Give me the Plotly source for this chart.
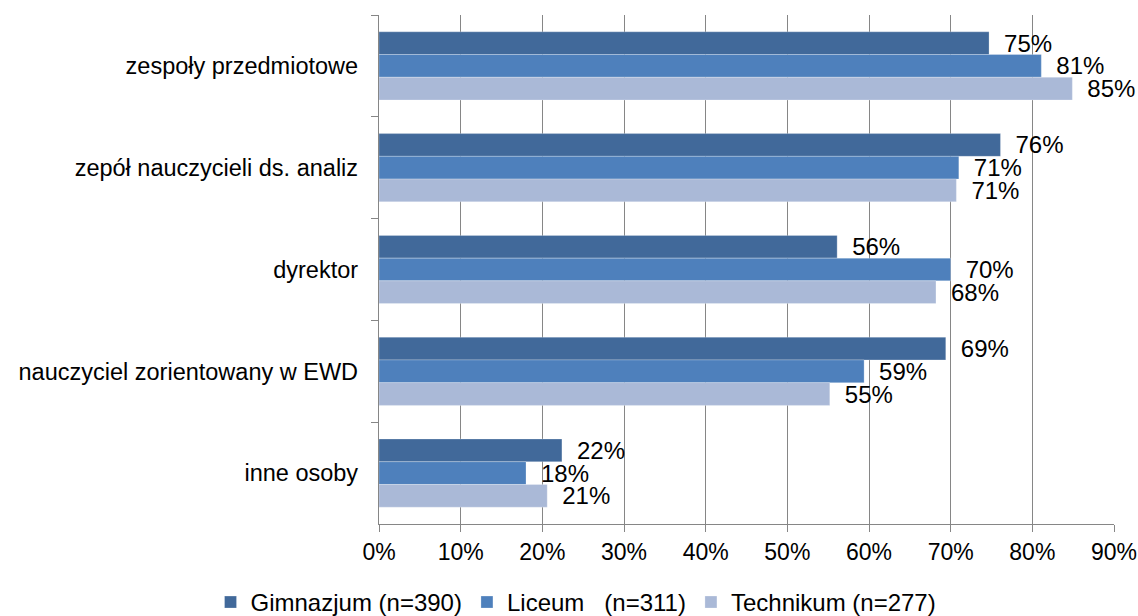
import plotly.graph_objects as go

categories = ["zespoły przedmiotowe", "zepół nauczycieli ds. analiz", "dyrektor",
              "nauczyciel zorientowany w EWD", "inne osoby"]
gimnazjum = [0.747, 0.761, 0.561, 0.694, 0.224]
liceum = [0.811, 0.710, 0.700, 0.594, 0.180]
technikum = [0.849, 0.707, 0.682, 0.552, 0.206]
series_names = ["Gimnazjum (n=390)", "Liceum\u00a0\u00a0 (n=311)", "Technikum (n=277)"]
colors = ["#41699A", "#4E80BC", "#AAB9D7"]
x_ticks = [0, 0.1, 0.2, 0.3, 0.4, 0.5, 0.6, 0.7, 0.8, 0.9]
x_tick_labels = ["0%", "10%", "20%", "30%", "40%", "50%", "60%", "70%", "80%", "90%"]

FONT = "Liberation Sans, Arial, sans-serif"

fig = go.Figure()
for name, vals, col in zip(series_names, [gimnazjum, liceum, technikum], colors):
    fig.add_trace(go.Bar(
        y=categories, x=vals, name=name, orientation="h",
        marker=dict(color=col, line=dict(color="rgba(255,255,255,0.5)", width=0.5)),
        text=vals, texttemplate="\u2002%{x:.0%}", textposition="outside",
        constraintext="none", cliponaxis=False,
        textfont=dict(family=FONT, size=24, color="#000000"),
    ))

fig.update_layout(
    width=1138, height=616,
    barmode="group", bargap=0.33, bargroupgap=0,
    paper_bgcolor="white", plot_bgcolor="white",
    margin=dict(l=379, r=24, t=15, b=92, autoexpand=False),
    font=dict(family=FONT, size=23, color="#000000"),
    showlegend=True,
    legend=dict(orientation="h", xref="container", yref="container",
                x=0.185, xanchor="left", y=0.022, yanchor="middle",
                font=dict(family=FONT, size=24), traceorder="normal",
                itemwidth=30, tracegroupgap=0, bgcolor="rgba(0,0,0,0)"),
    xaxis=dict(range=[0, 0.9], tickvals=x_ticks, ticktext=x_tick_labels,
               showgrid=True, gridcolor="#868686", gridwidth=1.4,
               showline=True, linecolor="#868686", linewidth=1.4,
               ticks="outside", ticklen=7, tickcolor="#868686", tickwidth=1.4,
               zeroline=False, tickfont=dict(family=FONT, size=23)),
    yaxis=dict(autorange="reversed", showline=True, linecolor="#868686", linewidth=1.4,
               ticks="outside", ticklen=7, tickcolor="#868686", tickwidth=1.4,
               tickson="boundaries", showgrid=False,
               tickfont=dict(family=FONT, size=23.5), ticklabelstandoff=15),
)

fig.write_html("out.html", config={"displayModeBar": False},
               post_script="document.body.style.margin='0';document.body.style.overflow='hidden';")
